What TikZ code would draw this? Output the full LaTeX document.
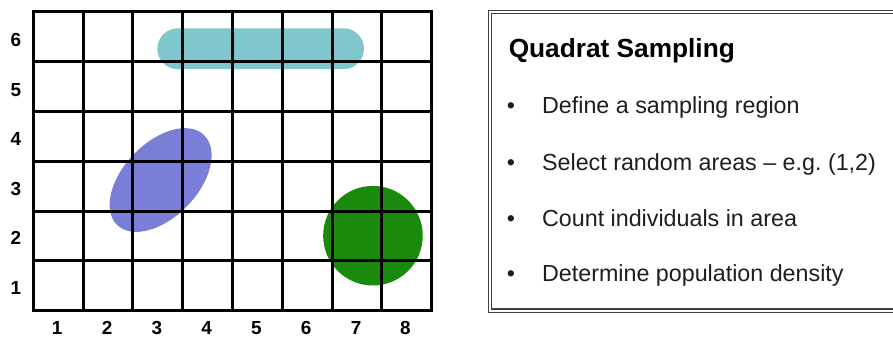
\documentclass[tikz,border=0pt]{standalone}
\usepackage{fontspec}
\setmainfont{Liberation Sans}
\usetikzlibrary{positioning}

\definecolor{barcyan}{RGB}{127,199,204}
\definecolor{blobblue}{RGB}{122,126,214}
\definecolor{dotgreen}{RGB}{26,138,12}
\definecolor{textgray}{RGB}{30,30,30}

\begin{document}
\begin{tikzpicture}[
    gridline/.style={line width=1.7pt, line cap=rect},
    axislabel/.style={inner sep=0pt, font=\fontsize{10.8}{12}\selectfont\bfseries},
    frame/.style={draw=black!75, line width=0.8pt, double=white, double distance=1pt},
    heading/.style={anchor=base west, inner sep=0pt, font=\fontsize{15}{18}\selectfont\bfseries},
    dot/.style={anchor=base, inner sep=0pt, text=textgray, font=\fontsize{13.3}{16}\selectfont},
    item/.style={anchor=base west, inner sep=0pt, text=textgray, font=\fontsize{13.3}{16}\selectfont}]
    \clip (-0.669,-0.548) rectangle (17.263,6.239);
    % Populations
    \fill[barcyan, rounded corners=0.41cm] (2.49,4.85) rectangle (6.64,5.67);
    \fill[blobblue, rotate around={46:(2.556,2.624)}] (2.556,2.624) ellipse (1.255 and 0.747);
    \fill[dotgreen] (6.82,1.506) circle (1.0);
    % Quadrat grid
    \draw[gridline] (0,0) grid (8,6);
    % Column numbers
    \node[axislabel] (c1) at (0.48,-0.34) {1};
    \node[axislabel] (c2) at (1.48,-0.34) {2};
    \node[axislabel] (c3) at (2.48,-0.34) {3};
    \node[axislabel] (c4) at (3.48,-0.34) {4};
    \node[axislabel] (c5) at (4.48,-0.34) {5};
    \node[axislabel] (c6) at (5.48,-0.34) {6};
    \node[axislabel] (c7) at (6.48,-0.34) {7};
    \node[axislabel] (c8) at (7.47,-0.34) {8};
    % Row numbers
    \node[axislabel] (r1) at (-0.35,0.46) {1};
    \node[axislabel] (r2) at (-0.35,1.46) {2};
    \node[axislabel] (r3) at (-0.35,2.45) {3};
    \node[axislabel] (r4) at (-0.35,3.45) {4};
    \node[axislabel] (r5) at (-0.35,4.44) {5};
    \node[axislabel] (r6) at (-0.35,5.44) {6};
    % Method box
    \draw[frame] (9.17,0) rectangle (17.6,6);
    \node[heading] (title) at (9.54,5.094) {Quadrat Sampling};
    \node[dot] (b1) at (9.59,3.964) {\textbullet};
    \node[item] (s1) at (10.21,3.964) {Define a sampling region};
    \node[dot] (b2) at (9.59,2.825) {\textbullet};
    \node[item] (s2) at (10.21,2.825) {Select random areas – e.g.\ (1,2)};
    \node[dot] (b3) at (9.59,1.687) {\textbullet};
    \node[item] (s3) at (10.21,1.687) {Count individuals in area};
    \node[dot] (b4) at (9.59,0.582) {\textbullet};
    \node[item] (s4) at (10.21,0.582) {Determine population density};
\end{tikzpicture}
\end{document}
